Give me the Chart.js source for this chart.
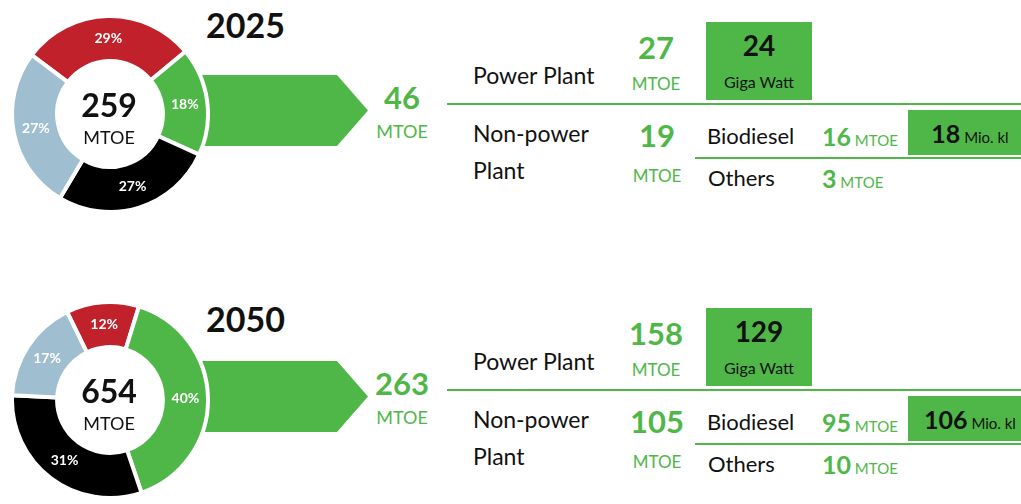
<!DOCTYPE html>
<html lang="en">
<head>
  <meta charset="UTF-8">
  <title>Energy Mix 2025 / 2050</title>
  <script src="https://cdn.jsdelivr.net/npm/chart.js"></script>
  <style>
    body {
      margin: 0;
      width: 1021px;
      height: 504px;
      overflow: hidden;
      position: relative;
      background: #fff;
      font-family: Lato, "Open Sans", sans-serif;
      color: #111;
    }
    .abs { position: absolute; white-space: nowrap; }
    .mid { transform: translateY(-50%); }
    .ctr { transform: translate(-50%, -50%); text-align: center; }
    .green { color: #4fb748; }
    .bg { background: #4fb748; }
    canvas { position: absolute; z-index: 2; }
    .arrow { position: absolute; z-index: 1; background: #4fb748; }
  </style>
</head>
<body>
<script>
  // energy mix categories (slice order, clockwise from top)
  const categories = ['Oil', 'New & Renewable Energy', 'Coal', 'Gas'];
  const sliceColors = ['#c0212b', '#4fb748', '#000000', '#9fbfd0'];
  const years = ['2025', '2050'];
  const share2025 = [29, 18, 27, 27];
  const share2050 = [12, 40, 31, 17];
  const totalMtoe = [259, 654];
  const nreMtoe = [46, 263];
  const powerPlantMtoe = [27, 158];
  const powerPlantGW = [24, 129];
  const nonPowerMtoe = [19, 105];
  const biodieselMtoe = [16, 95];
  const biodieselMioKl = [18, 106];
  const othersMtoe = [3, 10];

  const shares = [share2025, share2050];
  const rotations = [-53, -26];

  function el(html, cls, css) {
    const d = document.createElement('div');
    d.className = cls;
    d.innerHTML = html;
    Object.assign(d.style, css);
    document.body.appendChild(d);
    return d;
  }

  const pctLabels = {
    id: 'pctLabels',
    afterDatasetsDraw(chart) {
      const ctx = chart.ctx;
      const data = chart.data.datasets[0].data;
      ctx.save();
      ctx.fillStyle = '#fff';
      ctx.font = 'bold 14px Lato';
      ctx.textAlign = 'center';
      ctx.textBaseline = 'middle';
      chart.getDatasetMeta(0).data.forEach((arc, i) => {
        const p = arc.tooltipPosition();
        ctx.fillText(data[i] + '%', p.x, p.y);
      });
      ctx.restore();
    }
  };

  years.forEach((yr, k) => {
    const dy = k * 286;

    // arrow behind the doughnut
    el('', 'arrow', {
      left: '195px', top: (75 + dy) + 'px', width: '173px', height: '71px',
      clipPath: 'polygon(0 0, 142px 0, 173px 35.5px, 142px 71px, 0 71px)'
    });

    const cv = document.createElement('canvas');
    cv.width = 200; cv.height = 200;
    cv.style.left = '10px'; cv.style.top = (14 + dy) + 'px';
    document.body.appendChild(cv);
    new Chart(cv.getContext('2d'), {
      type: 'doughnut',
      data: {
        labels: categories,
        datasets: [{
          data: shares[k],
          backgroundColor: sliceColors,
          borderColor: '#fff',
          borderWidth: 4,
          hoverOffset: 0
        }]
      },
      options: {
        responsive: false,
        animation: false,
        cutout: '54%',
        rotation: rotations[k],
        plugins: { legend: { display: false }, tooltip: { enabled: false } }
      },
      plugins: [pctLabels]
    });

    // centre of doughnut
    el(totalMtoe[k], 'abs ctr', { left: '109px', top: (104 + dy) + 'px', font: 'bold 32px Lato', zIndex: 3 });
    el('MTOE', 'abs ctr', { left: '109px', top: (137 + dy) + 'px', font: '18px Lato', zIndex: 3 });

    // year
    el(yr, 'abs mid', { left: '206px', top: (k ? 318 : 24) + 'px', font: 'bold 34px Lato' });

    // NRE total
    el(nreMtoe[k], 'abs ctr green', { left: '402px', top: (97 + dy) + 'px', font: 'bold 31px Lato' });
    el('MTOE', 'abs ctr green', { left: '402px', top: (131 + dy) + 'px', font: '18px Lato' });

    // lines
    el('', 'abs bg', { left: '447px', top: (103 + dy) + 'px', width: '574px', height: '2px' });
    el('', 'abs bg', { left: '695px', top: (157 + dy) + 'px', width: '326px', height: '2px' });

    // power plant row
    el('Power Plant', 'abs mid', { left: '473px', top: (75 + dy) + 'px', font: '23px Lato' });
    el(powerPlantMtoe[k], 'abs ctr green', { left: '656px', top: (47 + dy) + 'px', font: 'bold 31px Lato' });
    el('MTOE', 'abs ctr green', { left: '656px', top: (83 + dy) + 'px', font: '17px Lato' });
    el('', 'abs bg', { left: '706px', top: (22 + dy) + 'px', width: '106px', height: '78px' });
    el(powerPlantGW[k], 'abs ctr', { left: '759px', top: (45 + dy) + 'px', font: 'bold 28px Lato' });
    el('Giga Watt', 'abs ctr', { left: '759px', top: (81 + dy) + 'px', font: '16px Lato' });

    // non-power plant row
    el('Non-power', 'abs mid', { left: '473px', top: (133 + dy) + 'px', font: '23px Lato' });
    el('Plant', 'abs mid', { left: '473px', top: (170 + dy) + 'px', font: '23px Lato' });
    el(nonPowerMtoe[k], 'abs ctr green', { left: '657px', top: (135 + dy) + 'px', font: 'bold 31px Lato' });
    el('MTOE', 'abs ctr green', { left: '657px', top: (175 + dy) + 'px', font: '17px Lato' });

    el('Biodiesel', 'abs mid', { left: '707px', top: (135 + dy) + 'px', font: '22px Lato' });
    el('<b style="font-size:25px">' + biodieselMtoe[k] + '</b> MTOE', 'abs mid green',
       { left: '822px', top: (136 + dy) + 'px', font: '15px Lato' });
    el('', 'abs bg', { left: '908px', top: (110 + dy) + 'px', width: '124px', height: '45px' });
    el('<b style="font-size:25px">' + biodieselMioKl[k] + '</b> Mio. kl', 'abs ctr',
       { left: '970px', top: (133 + dy) + 'px', font: '15px Lato' });

    el('Others', 'abs mid', { left: '708px', top: (177 + dy) + 'px', font: '22px Lato' });
    el('<b style="font-size:25px">' + othersMtoe[k] + '</b> MTOE', 'abs mid green',
       { left: '822px', top: (178 + dy) + 'px', font: '15px Lato' });
  });
</script>
</body>
</html>
